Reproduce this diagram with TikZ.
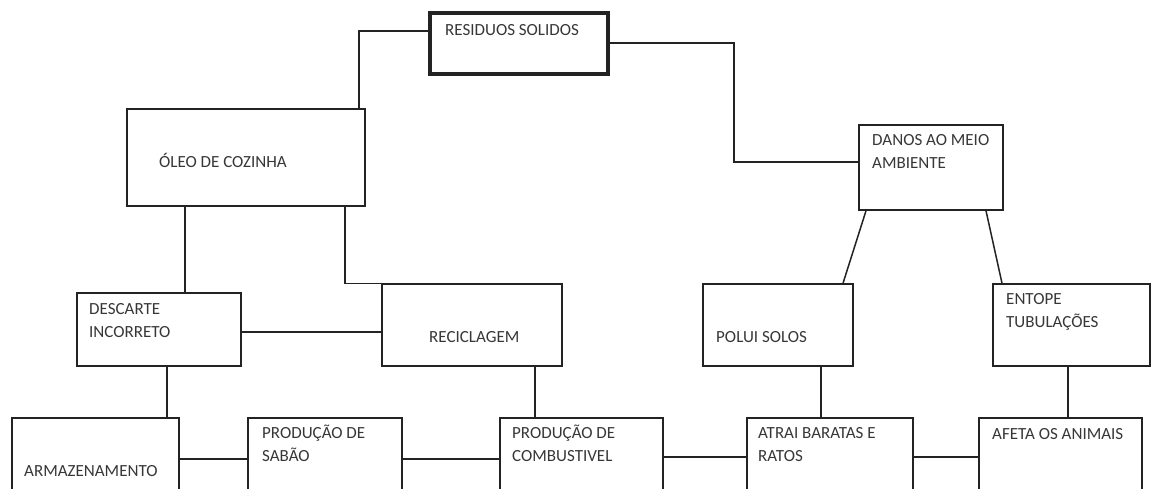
\documentclass[tikz,border=0pt]{standalone}
\usepackage{fontspec}
\setmainfont{Carlito}
\usepackage{tikz}
\usetikzlibrary{fit}
\definecolor{Traco}{RGB}{35,35,35}
\definecolor{Letra}{RGB}{55,55,55}
\tikzset{
  caixa/.style={draw=Traco,line width=1.5pt,inner sep=0pt},
  caixaforte/.style={caixa,line width=3.5pt},
  rotulo/.style={anchor=base west,inner sep=0pt,align=left,text=Letra,
    font=\fontsize{17}{22.5}\selectfont},
  liga/.style={draw=Traco,line width=1.5pt}
}
\newcommand{\Caixa}[6][caixa]{% estilo nome x1 y1 x2 y2
\node[#1,fit={(#3,#4) (#5,#6)}] (#2) {};
}

\begin{document}
\begin{tikzpicture}[x=1pt,y=-1pt]
\clip (0,0) rectangle (1153,488);
\fill[white] (0,0) rectangle (1153,488);
% caixas
\Caixa[caixaforte]{residuos}{430}{13}{608}{74}
\Caixa{oleo}{127}{109}{365}{206}
\Caixa{danos}{859}{125}{1003}{210}
\Caixa{descarte}{77}{293}{241}{366}
\Caixa{reciclagem}{382}{284}{562}{366}
\Caixa{polui}{703}{284}{853}{366}
\Caixa{entope}{993}{284}{1150}{366}
\Caixa{armaz}{12}{418}{179}{520}
\Caixa{sabao}{248}{418}{402}{520}
\Caixa{combust}{500}{418}{663}{520}
\Caixa{atrai}{747}{418}{913}{520}
\Caixa{afeta}{979}{418}{1142}{520}
% textos (base da ultima linha)
\node[rotulo] (residuos-txt) at (445,35) {RESIDUOS SOLIDOS};
\node[rotulo] (oleo-txt) at (159,167) {ÓLEO DE COZINHA};
\node[rotulo] (danos-txt) at (872,168) {DANOS AO MEIO\\AMBIENTE};
\node[rotulo] (descarte-txt) at (89,337) {DESCARTE\\INCORRETO};
\node[rotulo] (reciclagem-txt) at (429,342) {RECICLAGEM};
\node[rotulo] (polui-txt) at (716,342) {POLUI SOLOS};
\node[rotulo] (entope-txt) at (1006,327) {ENTOPE\\TUBULAÇÕES};
\node[rotulo] (armaz-txt) at (24,476) {ARMAZENAMENTO};
\node[rotulo] (sabao-txt) at (262,461) {PRODUÇÃO DE\\SABÃO};
\node[rotulo] (combust-txt) at (512,461) {PRODUÇÃO DE\\COMBUSTIVEL};
\node[rotulo] (atrai-txt) at (758,461) {ATRAI BARATAS E\\RATOS};
\node[rotulo] (afeta-txt) at (992,439) {AFETA OS ANIMAIS};
% ligacoes
\coordinate (dobra) at (734,162);
\draw[liga] (residuos.west |- 0,31) -| (oleo.north -| 359,0);
\draw[liga] (residuos.east |- 0,43) -| (dobra) -- (danos.west |- dobra);
\draw[liga] (oleo.south -| 185,0) -- (descarte.north -| 185,0);
\draw[liga] (oleo.south -| 345,0) |- (reciclagem.north west);
\draw[liga] (descarte.east |- 0,332) -- (reciclagem.west |- 0,332);
\draw[liga] (danos.south -| 866,0) -- (polui.north -| 843,0);
\draw[liga] (danos.south -| 986,0) -- (entope.north -| 1002,0);
\draw[liga] (descarte.south -| 167,0) -- (armaz.north -| 167,0);
\draw[liga] (reciclagem.south -| 535,0) -- (combust.north -| 535,0);
\draw[liga] (polui.south -| 821,0) -- (atrai.north -| 821,0);
\draw[liga] (entope.south -| 1068,0) -- (afeta.north -| 1068,0);
\draw[liga] (armaz.east |- 0,459) -- (sabao.west |- 0,459);
\draw[liga] (sabao.east |- 0,459) -- (combust.west |- 0,459);
\draw[liga] (combust.east |- 0,457) -- (atrai.west |- 0,457);
\draw[liga] (atrai.east |- 0,457) -- (afeta.west |- 0,457);
\end{tikzpicture}
\end{document}
